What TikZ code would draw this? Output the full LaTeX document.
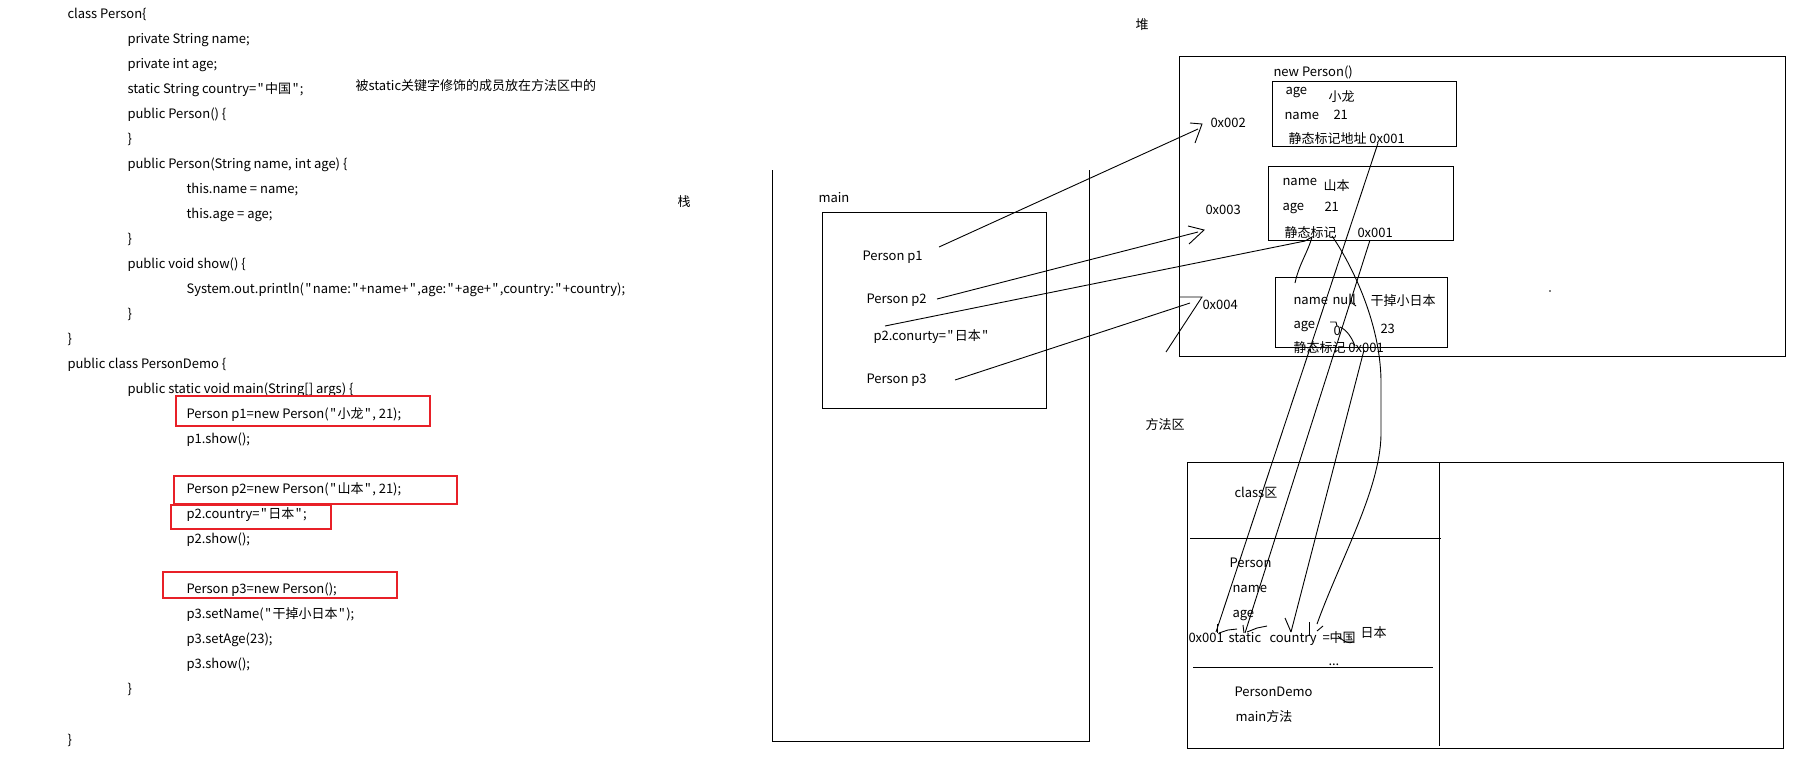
\documentclass[tikz,border=0pt]{standalone}
\usepackage{fontspec}
\setmainfont{Noto Sans CJK SC}[Ligatures=TeXOff]
\newcommand\codefont{\fontsize{13}{15}\selectfont}
\newcommand\qq{\kern1.3pt"\kern1.3pt}
\begin{document}
\begin{tikzpicture}[x=1pt,y=-1pt,line width=1pt,
  txt/.style={anchor=base west,inner sep=0pt,yshift=-5pt,font=\codefont},
  redbox/.style={draw=boxred,line width=1.2pt},
  frame/.style={draw=black,line width=1pt},
  wire/.style={draw=black,line width=0.9pt}]
\definecolor{boxred}{RGB}{232,32,40}
\useasboundingbox[fill=white] (0,0) rectangle (1812,764);

% ---------------- code ----------------
\node[txt] (c1)  at (67,13)  {class Person\{};
\node[txt] (c2)  at (127,38) {private String name;};
\node[txt] (c3)  at (127,63) {private int age;};
\node[txt] (c4)  at (127,88) {static String country=\qq 中国\qq;};
\node[txt] (c5)  at (127,113) {public Person() \{};
\node[txt] (c6)  at (127,138) {\}};
\node[txt] (c7)  at (127,163) {public Person(String name, int age) \{};
\node[txt] (c8)  at (186,188) {this.name = name;};
\node[txt] (c9)  at (186,213) {this.age = age;};
\node[txt] (c10) at (127,238) {\}};
\node[txt] (c11) at (127,263) {public void show() \{};
\node[txt] (c12) at (186,288) {System.out.println(\qq name:\qq+name+\qq,age:\qq+age+\qq,country:\qq+country);};
\node[txt] (c13) at (127,313) {\}};
\node[txt] (c14) at (67,338)  {\}};
\node[txt] (c15) at (67,363)  {public class PersonDemo \{};
\node[txt] (c16) at (127,388) {public static void main(String[] args) \{};
\node[txt] (c17) at (186,413) {Person p1=new Person(\qq 小龙\qq, 21);};
\node[txt] (c18) at (186,438) {p1.show();};
\node[txt] (c19) at (186,488) {Person p2=new Person(\qq 山本\qq, 21);};
\node[txt] (c20) at (186,513) {p2.country=\qq 日本\qq;};
\node[txt] (c21) at (186,538) {p2.show();};
\node[txt] (c22) at (186,588) {Person p3=new Person();};
\node[txt] (c23) at (186,613) {p3.setName(\qq 干掉小日本\qq);};
\node[txt] (c24) at (186,638) {p3.setAge(23);};
\node[txt] (c25) at (186,663) {p3.show();};
\node[txt] (c26) at (127,688) {\}};
\node[txt] (c27) at (67,739)  {\}};
\node[txt] (note) at (355,85) {被static关键字修饰的成员放在方法区中的};

\draw[redbox] (176,396) rectangle (430,426);
\draw[redbox] (174,476) rectangle (457,504);
\draw[redbox] (171,505) rectangle (331,529);
\draw[redbox] (163,572) rectangle (397,598);

% ---------------- stack ----------------
\node[txt] (zhan) at (677,201) {栈};
\draw[frame] (772,170) -- (772,741) -- (1089,741) -- (1089,170);
\node[txt] (mainlbl) at (818,197) {main};
\draw[frame] (822,212) rectangle (1046,408);
\node[txt] (sp1) at (862,255) {Person p1};
\node[txt] (sp2) at (866,298) {Person p2};
\node[txt] (spc) at (873,335) {p2.conurty=\qq 日本\qq};
\node[txt] (sp3) at (866,378) {Person p3};

% ---------------- heap ----------------
\node[txt] (dui) at (1135,24) {堆};
\draw[frame] (1179,56) rectangle (1785,356);
\node[txt] (newp) at (1273,71) {new Person()};
% object 1
\draw[frame] (1272,81) rectangle (1456,146);
\node[txt] (o1a)  at (1285,89)  {age};
\node[txt] (o1av) at (1328,96)  {小龙};
\node[txt] (o1n)  at (1284,114) {name};
\node[txt] (o1nv) at (1333,114) {21};
\node[txt] (o1s)  at (1288,138) {静态标记地址 0x001};
\node[txt] (ad2)  at (1210,122) {0x002};
% object 2
\draw[frame] (1268,166) rectangle (1453,240);
\node[txt] (o2n)  at (1282,180) {name};
\node[txt] (o2nv) at (1323,185) {山本};
\node[txt] (o2a)  at (1282,205) {age};
\node[txt] (o2av) at (1324,206) {21};
\node[txt] (o2s)  at (1284,232) {静态标记};
\node[txt] (o2sv) at (1357,232) {0x001};
\node[txt] (ad3)  at (1205,209) {0x003};
% object 3
\draw[frame] (1275,277) rectangle (1447,347);
\node[txt] (o3n)  at (1293,299) {name};
\node[txt] (o3nv) at (1332,299) {null};
\node[txt] (o3nw) at (1370,300) {干掉小日本};
\node[txt] (o3a)  at (1293,323) {age};
\node[txt] (o3av) at (1333,330) {0};
\node[txt] (o3aw) at (1380,328) {23};
\node[txt] (o3s)  at (1293,347) {静态标记 0x001};
\node[txt] (ad4)  at (1202,304) {0x004};
\fill (1550,291) circle (0.8);

% ---------------- method area ----------------
\node[txt] (ffq) at (1145,424) {方法区};
\draw[frame] (1187,462) rectangle (1783,748);
\draw[frame] (1439,462) -- (1439,746);
\draw[frame] (1190,538) -- (1441,538);
\draw[frame] (1193,667) -- (1433,667);
\node[txt] (clsq) at (1234,492) {class区};
\node[txt] (mp)   at (1229,562) {Person};
\node[txt] (mn)   at (1232,587) {name};
\node[txt] (ma)   at (1232,612) {age};
\node[txt] (madr) at (1188,637) {0x001};
\node[txt] (mst)  at (1228,637) {static};
\node[txt] (mco)  at (1269,637) {country};
\node[txt] (mzg)  at (1322,637) {=中国};
\node[txt] (mrb)  at (1360,632) {日本};
\node[txt] (mdot) at (1328,660) {...};
\node[txt] (mpd)  at (1234,691) {PersonDemo};
\node[txt] (mmm)  at (1235,716) {main方法};

% ---------------- connector end points ----------------
\coordinate (p1s) at (939,247);
\coordinate (p1e) at (1198,129);
\coordinate (p2s) at (937,299);
\coordinate (p2e) at (1198,232);
\coordinate (pcs) at (885,326);
\coordinate (pce) at (1305,241);
\coordinate (p3s) at (955,380);
\coordinate (p3e) at (1190,303);
\coordinate (las) at (1378,143);
\coordinate (lae) at (1216,632);
\coordinate (lbs) at (1370,240);
\coordinate (lbe) at (1245,633);
\coordinate (lcs) at (1364,350);
\coordinate (lce) at (1291,632);
\coordinate (lds) at (1332,236);
\coordinate (lde) at (1317,624);

% stack -> heap
\draw[wire] (p1s) -- (p1e);
\draw[wire] (1190,123) -- (1202,124) -- (1195,143);
\draw[wire] (p2s) -- (p2e);
\draw[wire] (1188,226) -- (1204,230) -- (1189,244);
\draw[wire] (pcs) -- (pce) -- (1312,237) .. controls (1308,252) and (1299,264) .. (1295,283);
\draw[wire] (p3s) -- (p3e);
\draw[wire] (1179,297) -- (1202,297) -- (1166,352);

% heap -> method area
\draw[wire] (las) -- (lae);
\draw[wire] (lbs) -- (lbe);
\draw[wire] (lcs) -- (lce);
\draw[wire] (lds) .. controls (1350,262) and (1380,320) .. (1381,380) -- (1381,435)
   .. controls (1380,490) and (1340,560) .. (lde);

% hand-drawn marks
\draw[wire] (1217,624) -- (1217,633);
\draw[wire] (1219,633) -- (1228,630) -- (1237,629);
\draw[wire] (1243,625) -- (1244,633);
\draw[wire] (1247,632) -- (1257,628) -- (1267,626);
\draw[wire] (1285,618) -- (1291,632);
\draw[wire] (1309,622) -- (1309,636);
\draw[wire] (1317,631) -- (1323,626);
\draw[wire] (1338,636) .. controls (1344,642) and (1349,644) .. (1353,642);
\draw[wire] (1330,322) -- (1336,322) -- (1337,326);
\draw[wire] (1340,327) .. controls (1347,330) and (1352,338) .. (1355,346);
\draw[wire] (1351,298) -- (1352,303) -- (1356,306);
\end{tikzpicture}
\end{document}
